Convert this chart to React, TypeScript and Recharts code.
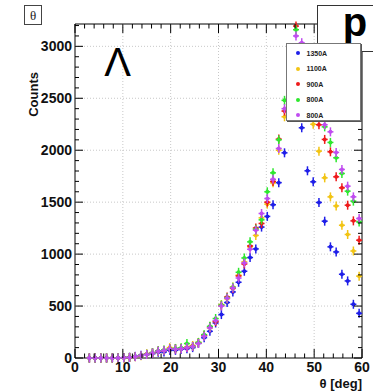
import { ScatterChart, Scatter, XAxis, YAxis, ReferenceLine, ReferenceArea } from "recharts";

const W = 373;
const H = 391;
const PLOT = { left: 75, right: 362, top: 24, bottom: 358 };
const Y_MAX = 3215;
const FONT = "'Liberation Sans', Arial, Helvetica, sans-serif";

// bin centres (deg)
const thetaBins = [
  3.0, 4.2, 5.4, 6.6, 7.8, 9.0, 10.2, 11.4, 12.6, 13.8, 15.0, 16.2, 17.4, 18.6, 19.8, 21.0,
  22.2, 23.4, 24.6, 25.8, 27.0, 28.2, 29.4, 30.6, 31.8, 33.0, 34.2, 35.4, 36.6, 37.8, 39.0, 40.2,
  41.4, 42.6, 43.8, 45.0, 46.2, 47.4, 48.6, 49.8, 51.0, 52.2, 53.4, 54.6, 55.8, 57.0, 58.2, 59.4,
];

const counts1350 = [
  0, 0, 0, 0, 0, 0, 4, 7, 16, 26, 33, 42, 55, 58, 74, 74,
  84, 90, 100, 141, 195, 257, 337, 418, 534, 636, 729, 835, 967, 1050, 1260, 1363,
  1475, 1688, 1975, 2450, 2380, 2216, 1802, 1696, 1497, 1317, 1070, 1021, 806, 742, 517, 430,
];
const counts1100 = [
  0, 0, 0, 0, 0, 0, 2, 5, 12, 22, 38, 50, 65, 75, 100, 90,
  95, 105, 120, 150, 215, 290, 355, 514, 570, 684, 797, 925, 1070, 1180, 1349, 1481,
  1686, 2000, 2322, 2800, 2950, 2900, 2600, 2250, 1991, 1734, 1551, 1464, 1278, 1189, 1030, 788,
];
const counts900 = [
  0, 0, 0, 0, 0, 0, 3, 6, 14, 24, 36, 50, 68, 72, 90, 88,
  92, 100, 112, 145, 219, 300, 350, 505, 588, 670, 790, 905, 1079, 1252, 1295, 1500,
  1700, 2107, 2377, 2850, 3195, 2950, 2700, 2500, 2245, 2104, 1985, 1744, 1638, 1471, 1320, 1134,
];
const counts800 = [
  0, 0, 0, 0, 0, 0, 2, 6, 14, 25, 35, 52, 70, 78, 88, 92,
  98, 139, 110, 150, 225, 305, 380, 510, 580, 680, 825, 963, 1118, 1240, 1330, 1600,
  1782, 2100, 2480, 2900, 3160, 2980, 2800, 2600, 2420, 2225, 2075, 1927, 1776, 1606, 1510, 1310,
];
const counts800b = [
  0, 0, 0, 0, 0, 0, 3, 5, 13, 23, 34, 48, 65, 72, 88, 85,
  90, 100, 110, 140, 210, 290, 360, 500, 575, 675, 770, 915, 1047, 1230, 1391, 1535,
  1720, 2017, 2400, 2800, 3100, 3035, 2850, 2650, 2450, 2245, 2177, 1979, 1815, 1654, 1551, 1343,
];

const seriesNames = ["1350A", "1100A", "900A", "800A", "800A"];
const seriesColors = ["#1e1ee8", "#f2c414", "#ee1a1a", "#2ee82e", "#c04cf0"];
const seriesCounts = [counts1350, counts1100, counts900, counts800, counts800b];

const xMajor = [0, 10, 20, 30, 40, 50, 60];
const xTicks = Array.from({ length: 31 }, (_, i) => i * 2);
const yMajor = [0, 500, 1000, 1500, 2000, 2500, 3000];
const yTicks = Array.from({ length: 33 }, (_, i) => i * 100);

const toPoints = (vals: number[]) => thetaBins.map((x, i) => ({ x, y: vals[i] }));

const Cross = ({ cx, cy, color }: any) => {
  if (cx == null || cy == null) return null;
  return (
    <g>
      <line x1={cx - 3} x2={cx + 3} y1={cy} y2={cy} stroke={color} strokeWidth={1.5} />
      <line x1={cx} x2={cx} y1={cy - 4.5} y2={cy + 4.5} stroke={color} strokeWidth={1.5} />
      <circle cx={cx} cy={cy} r={2} fill={color} />
    </g>
  );
};

const XTick = ({ x, payload }: any) => {
  const v = payload.value;
  const major = xMajor.includes(v);
  const len = major ? 9 : 4.5;
  return (
    <g>
      <line x1={x} x2={x} y1={PLOT.bottom} y2={PLOT.bottom - len} stroke="#000" />
      <line x1={x} x2={x} y1={PLOT.top} y2={PLOT.top + len} stroke="#000" />
      {major && (
        <text x={x} y={PLOT.bottom + 14} textAnchor="middle" fontFamily={FONT} fontWeight="bold" fontSize={14} fill="#111">
          {v}
        </text>
      )}
    </g>
  );
};

const YTick = ({ y, payload }: any) => {
  const v = payload.value;
  const major = yMajor.includes(v);
  const len = major ? 8 : 4;
  return (
    <g>
      <line x1={PLOT.left} x2={PLOT.left + len} y1={y} y2={y} stroke="#000" />
      <line x1={PLOT.right} x2={PLOT.right - len} y1={y} y2={y} stroke="#000" />
      {major && (
        <text x={PLOT.left - 3} y={y + 5} textAnchor="end" fontFamily={FONT} fontWeight="bold" fontSize={14} fill="#111">
          {v}
        </text>
      )}
    </g>
  );
};

export default function App() {
  return (
    <div style={{ position: "absolute", left: 0, top: 0, width: W, height: H, background: "#fff" }}>
      <ScatterChart width={W} height={H} margin={{ top: PLOT.top, right: W - PLOT.right, bottom: 0, left: 0 }}>
        <XAxis
          type="number"
          dataKey="x"
          domain={[0, 60]}
          ticks={xTicks}
          interval={0}
          height={H - PLOT.bottom}
          axisLine={false}
          tickLine={false}
          tick={(p: any) => <XTick {...p} />}
        />
        <YAxis
          type="number"
          dataKey="y"
          domain={[0, Y_MAX]}
          ticks={yTicks}
          interval={0}
          width={PLOT.left}
          axisLine={false}
          tickLine={false}
          tick={(p: any) => <YTick {...p} />}
        />
        {xMajor.slice(1, -1).map((v) => (
          <ReferenceLine key={"gx" + v} x={v} stroke="#c8c8c8" strokeDasharray="1 2" />
        ))}
        {yMajor.slice(1).map((v) => (
          <ReferenceLine key={"gy" + v} y={v} stroke="#c8c8c8" strokeDasharray="1 2" />
        ))}
        <ReferenceArea x1={0} x2={60} y1={0} y2={Y_MAX} fill="none" fillOpacity={0} stroke="#000" strokeWidth={1} />
        {seriesCounts.map((vals, i) => (
          <Scatter
            key={i}
            name={seriesNames[i]}
            data={toPoints(vals)}
            isAnimationActive={false}
            shape={(p: any) => <Cross cx={p.cx} cy={p.cy} color={seriesColors[i]} />}
          />
        ))}
      </ScatterChart>

      <svg width={W} height={H} style={{ position: "absolute", left: 0, top: 0, pointerEvents: "none" }}>
        <rect x={24.5} y={5.5} width={17} height={19} fill="#fff" stroke="#444" />
        <text x={33} y={19.5} textAnchor="middle" fontFamily="'Liberation Serif', 'DejaVu Serif', serif" fontSize={13} fill="#222">
          θ
        </text>
        <text x={117.5} y={76} textAnchor="middle" fontFamily={FONT} fontSize={40} fill="#000">
          Λ
        </text>
        <text
          x={33}
          y={72}
          transform="rotate(-90 33 72)"
          textAnchor="end"
          dominantBaseline="central"
          fontFamily={FONT}
          fontWeight="bold"
          fontSize={13}
          fill="#111"
        >
          Counts
        </text>
        <text x={PLOT.right} y={388} textAnchor="end" fontFamily={FONT} fontWeight="bold" fontSize={13} fill="#111">
          θ [deg]
        </text>
        <rect x={317.5} y={5.5} width={70} height={46} fill="#fff" stroke="#333" />
        <text x={355} y={36} textAnchor="middle" fontFamily={FONT} fontWeight="bold" fontSize={40} fill="#000">
          p
        </text>
      </svg>

      <div
        style={{
          position: "absolute",
          left: 286,
          top: 43,
          width: 75,
          height: 78,
          background: "#fff",
          border: "1px solid #777",
          boxShadow: "1px 1px 0 #555",
          boxSizing: "border-box",
          fontFamily: FONT,
          fontWeight: "bold",
          fontSize: 7,
          color: "#222",
        }}
      >
        {seriesNames.map((n, i) => (
          <div key={i} style={{ position: "absolute", left: 0, top: 4 + i * 15.6, height: 10, display: "flex", alignItems: "center" }}>
            <span
              style={{
                display: "inline-block",
                width: 4,
                height: 4,
                borderRadius: 2,
                background: seriesColors[i],
                marginLeft: 8.5,
                marginRight: 7,
              }}
            />
            <span>{n}</span>
          </div>
        ))}
      </div>
    </div>
  );
}
